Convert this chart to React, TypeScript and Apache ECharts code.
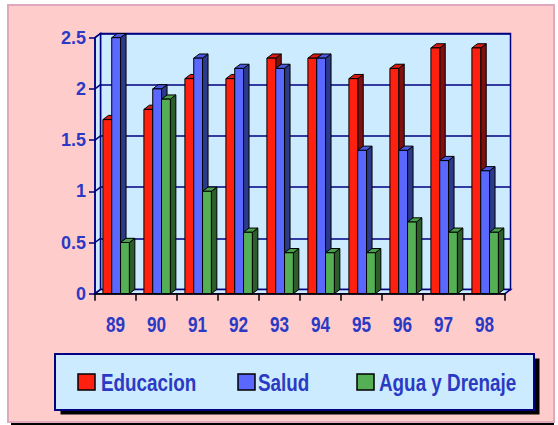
import React, { useEffect, useRef } from "react";
import * as echarts from "echarts";

const categories = ["89", "90", "91", "92", "93", "94", "95", "96", "97", "98"];
const seriesNames = ["Educacion", "Salud", "Agua y Drenaje"];
const educacion = [1.7, 1.8, 2.1, 2.1, 2.3, 2.3, 2.1, 2.2, 2.4, 2.4];
const salud = [2.5, 2.0, 2.3, 2.2, 2.2, 2.3, 1.4, 1.4, 1.3, 1.2];
const agua = [0.5, 1.9, 1.0, 0.6, 0.4, 0.4, 0.4, 0.7, 0.6, 0.6];
const yTicks = [0, 0.5, 1, 1.5, 2, 2.5];

const seriesValues = [educacion, salud, agua];
const frontColors = ["#FF2010", "#5A68FF", "#55AF55"];
const topColors = ["#D81A10", "#4A58E0", "#4AA04A"];
const sideColors = ["#801010", "#2B3A8A", "#2B5E2B"];

const LABEL_COLOR = "#2A3AC4";
const NAVY = "#000080";
const WALL = "#CCEBFF";
const DX = 5.5;
const DY = 4.2;
const FONT = "Liberation Sans, Arial, sans-serif";

export default function App() {
  const ref = useRef<HTMLDivElement>(null);

  useEffect(() => {
    if (!ref.current) return;
    const chart = echarts.init(ref.current, undefined, { renderer: "svg" });

    const barSeries = seriesValues.map((vals, s) => ({
      type: "custom",
      name: seriesNames[s],
      xAxisIndex: 1,
      yAxisIndex: 1,
      z: 3,
      itemStyle: { color: frontColors[s] },
      data: vals.map((v, i) => [i, v]),
      renderItem: (params: any, api: any) => {
        const ci = api.value(0);
        const v = api.value(1);
        const top = api.coord([ci, v]);
        const base = api.coord([ci, 0]);
        const band = api.size([1, 0])[0];
        const w = band * 0.215;
        const x = top[0] - band * 0.307 + s * w;
        const y = top[1];
        const yb = base[1];
        const stroke = { stroke: "#000", lineWidth: 1 };
        return {
          type: "group",
          children: [
            {
              type: "polygon",
              shape: {
                points: [
                  [x + w, y],
                  [x + w + DX, y - DY],
                  [x + w + DX, yb - DY],
                  [x + w, yb],
                ],
              },
              style: { fill: sideColors[s], ...stroke },
            },
            {
              type: "polygon",
              shape: {
                points: [
                  [x, y],
                  [x + w, y],
                  [x + w + DX, y - DY],
                  [x + DX, y - DY],
                ],
              },
              style: { fill: topColors[s], ...stroke },
            },
            {
              type: "rect",
              shape: { x, y, width: w, height: yb - y },
              style: { fill: frontColors[s], ...stroke },
            },
          ],
        };
      },
    }));

    const floorSeries = {
      type: "custom",
      xAxisIndex: 1,
      yAxisIndex: 1,
      z: 1,
      silent: true,
      data: [[0, 0]],
      renderItem: (params: any, api: any) => {
        const band = api.size([1, 0])[0];
        const p0 = api.coord([0, 0]);
        const pTop = api.coord([0, yTicks[yTicks.length - 1]]);
        const left = p0[0] - band / 2;
        const right = left + band * categories.length;
        const yb = p0[1];
        const yt = pTop[1];
        const children: any[] = [
          {
            type: "polygon",
            shape: {
              points: [
                [left, yb],
                [left, yt],
                [left + DX, yt - DY],
                [left + DX, yb - DY],
              ],
            },
            style: { fill: WALL, stroke: NAVY, lineWidth: 1.5 },
          },
          {
            type: "polygon",
            shape: {
              points: [
                [left, yb],
                [right, yb],
                [right + DX, yb - DY],
                [left + DX, yb - DY],
              ],
            },
            style: { fill: WALL, stroke: NAVY, lineWidth: 1.5 },
          },
        ];
        yTicks.forEach((t) => {
          const py = api.coord([0, t])[1];
          children.push({
            type: "line",
            shape: { x1: left, y1: py, x2: left + DX, y2: py - DY },
            style: { stroke: NAVY, lineWidth: 1.5 },
          });
        });
        return { type: "group", children };
      },
    };

    // category labels (tall, condensed lettering as in the reference)
    const labelSeries = {
      type: "custom",
      xAxisIndex: 1,
      yAxisIndex: 1,
      z: 6,
      silent: true,
      clip: false,
      data: categories.map((c, i) => [i, 0]),
      renderItem: (params: any, api: any) => {
        const i = api.value(0);
        const p = api.coord([i, 0]);
        return {
          type: "text",
          x: p[0],
          y: p[1] + 30,
          scaleX: 0.78,
          style: {
            text: categories[i],
            fill: LABEL_COLOR,
            fontSize: 22,
            fontWeight: "bold",
            fontFamily: FONT,
            align: "center",
            verticalAlign: "middle",
          },
        };
      },
    };

    const yFont = { color: LABEL_COLOR, fontSize: 18, fontWeight: "bold", fontFamily: FONT };

    const legendIconX = [78, 238, 357];
    const legendTextX = [101, 258, 379];
    const legendItems: any[] = [];
    seriesNames.forEach((n, i) => {
      legendItems.push({
        type: "rect",
        z: 10,
        shape: { x: legendIconX[i], y: 374, width: 17, height: 16 },
        style: { fill: frontColors[i], stroke: "#000", lineWidth: 1.5 },
      });
      legendItems.push({
        type: "text",
        z: 10,
        x: legendTextX[i],
        y: 382.5,
        scaleX: 0.82,
        style: {
          text: n,
          fill: LABEL_COLOR,
          fontSize: 23,
          fontWeight: "bold",
          fontFamily: FONT,
          align: "left",
          verticalAlign: "middle",
        },
      });
    });

    chart.setOption({
      animation: false,
      backgroundColor: "transparent",
      textStyle: { fontFamily: FONT },
      grid: [
        {
          left: 95 + DX,
          top: 37.7 - DY,
          width: 410,
          height: 256,
          show: true,
          backgroundColor: WALL,
          borderColor: NAVY,
          borderWidth: 1.5,
        },
        { left: 95, top: 37.7, width: 410, height: 256 },
      ],
      xAxis: [
        { type: "category", gridIndex: 0, data: categories, show: false },
        {
          type: "category",
          gridIndex: 1,
          data: categories,
          z: 5,
          axisLine: { show: true, lineStyle: { color: "#000", width: 1.5 } },
          axisTick: { show: true, length: 7, lineStyle: { color: "#000", width: 1.5 } },
          axisLabel: { show: false },
        },
      ],
      yAxis: [
        {
          type: "value",
          gridIndex: 0,
          min: 0,
          max: 2.5,
          interval: 0.5,
          axisLabel: { show: false },
          axisLine: { show: false },
          axisTick: { show: false },
          splitLine: { show: true, lineStyle: { color: NAVY, width: 1.5 } },
        },
        {
          type: "value",
          gridIndex: 1,
          min: 0,
          max: 2.5,
          interval: 0.5,
          z: 5,
          axisLine: { show: true, lineStyle: { color: NAVY, width: 1.5 } },
          axisTick: { show: true, length: 6, lineStyle: { color: NAVY, width: 1.5 } },
          axisLabel: { ...yFont, margin: 9 },
          splitLine: { show: false },
        },
      ],
      graphic: [
        {
          type: "rect",
          z: 1,
          shape: { x: 60.5, y: 358.5, width: 479, height: 56 },
          style: { fill: "#000" },
        },
        {
          type: "rect",
          z: 2,
          shape: { x: 55, y: 354, width: 479, height: 56 },
          style: { fill: WALL, stroke: NAVY, lineWidth: 2 },
        },
        ...legendItems,
      ],
      series: [floorSeries, ...barSeries, labelSeries],
    });

    return () => chart.dispose();
  }, []);

  return (
    <div style={{ position: "fixed", left: 0, top: 0, width: 558, height: 425, background: "#fff" }}>
      <div
        style={{
          position: "absolute",
          left: 11,
          top: 7,
          width: 543,
          height: 418,
          background: "#000",
        }}
      />
      <div
        style={{
          position: "absolute",
          left: 7,
          top: 4,
          width: 544,
          height: 415,
          background: "#FFCCCC",
          border: "2px solid #E0A8BC",
        }}
      />
      <div ref={ref} style={{ position: "absolute", left: 0, top: 0, width: 558, height: 425 }} />
    </div>
  );
}
